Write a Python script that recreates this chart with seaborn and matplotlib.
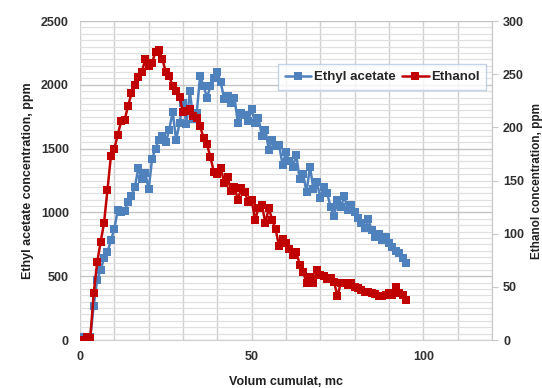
import numpy as np
import pandas as pd
import matplotlib
matplotlib.use("Agg")
import matplotlib.pyplot as plt
from matplotlib.ticker import MultipleLocator
import seaborn as sns

# cumulative volume (mc), one sample per unit
volume = list(range(0, 96))

# ethyl acetate, ppm (left axis)
ethyl_acetate = [
    20, 25, 20, 25, 270, 470, 550, 640, 690, 780,
    870, 1020, 1000, 1010, 1080, 1130, 1200, 1350, 1260, 1310,
    1180, 1420, 1500, 1570, 1600, 1550, 1650, 1790, 1570, 1700,
    1860, 1690, 1950, 1730, 1780, 2070, 1990, 1900, 1990, 2050,
    2100, 2020, 1890, 1910, 1860, 1900, 1700, 1780, 1760, 1720,
    1810, 1700, 1740, 1600, 1650, 1490, 1570, 1520, 1530, 1375,
    1470, 1400, 1360, 1450, 1260, 1300, 1160, 1360, 1180, 1240,
    1115, 1200, 1150, 1045, 970, 1100, 1045, 1125, 1020, 1060,
    1005, 960, 920, 880, 945, 860, 810, 830, 786, 810,
    760, 730, 700, 680, 640, 600,
]

# ethanol, ppm (right axis)
ethanol = [
    0, 0, 3, 2, 44, 73, 92, 110, 141, 173,
    180, 193, 206, 207, 220, 232, 240, 247, 252, 264,
    258, 261, 271, 273, 264, 252, 248, 239, 234, 229,
    214, 215, 217, 211, 209, 201, 190, 184, 172, 158,
    156, 162, 148, 153, 140, 144, 132, 143, 139, 130,
    132, 113, 124, 127, 110, 124, 113, 104, 88, 95,
    91, 86, 80, 83, 71, 64, 54, 59, 54, 66,
    61, 60, 57, 58, 55, 41, 54, 54, 52, 54,
    50, 49, 47, 45, 45, 44, 43, 41, 41, 42,
    44, 42, 50, 44, 42, 38,
]

BLUE = "#4f81bd"
RED = "#c00000"

sns.set_style("white")
plt.rcParams["font.family"] = ["Liberation Sans", "DejaVu Sans"]
plt.rcParams["font.weight"] = "bold"

df = pd.DataFrame({"volume": volume, "ethyl_acetate": ethyl_acetate, "ethanol": ethanol})

fig = plt.figure(figsize=(5.42, 3.88), dpi=100)
ax = fig.add_axes([0.1476, 0.1237, 0.760, 0.822])
ax2 = ax.twinx()

sns.lineplot(data=df, x="volume", y="ethyl_acetate", ax=ax, color=BLUE, marker="s",
             markersize=5.5, markeredgewidth=0, linewidth=1.8, label="Ethyl acetate", legend=False)
sns.lineplot(data=df, x="volume", y="ethanol", ax=ax2, color=RED, marker="s",
             markersize=5.5, markeredgewidth=0, linewidth=1.8, label="Ethanol", legend=False)

ax.set_xlim(0, 120)
ax.set_ylim(0, 2500)
ax2.set_ylim(0, 300)

ax.xaxis.set_major_locator(MultipleLocator(50))
ax.xaxis.set_minor_locator(MultipleLocator(10))
ax.yaxis.set_major_locator(MultipleLocator(500))
ax.yaxis.set_minor_locator(MultipleLocator(50))
ax2.yaxis.set_major_locator(MultipleLocator(50))

ax.grid(which="major", axis="y", color="#c4c4c4", linewidth=1.0)
ax.grid(which="minor", axis="y", color="#e0e0e0", linewidth=0.9)
ax.grid(which="both", axis="x", color="#d0d0d0", linewidth=1.0)
ax.set_axisbelow(True)

for a in (ax, ax2):
    for s in a.spines.values():
        s.set_visible(False)
ax2.spines["right"].set_visible(True)
ax2.spines["right"].set_color("#c8c8c8")
ax.spines["bottom"].set_visible(True)
ax.spines["bottom"].set_color("#d0d0d0")

ax.tick_params(axis="both", which="both", length=0, labelsize=9, colors="#303030", pad=8)
ax2.tick_params(axis="y", which="major", length=4, direction="out", color="#c8c8c8",
                labelsize=9, labelcolor="#303030", pad=4)

ax.set_xlabel("Volum cumulat, mc", fontsize=9, fontweight="bold", color="#202020", labelpad=9)
ax.set_ylabel("Ethyl acetate concentration, ppm", fontsize=9, fontweight="bold", color="#202020", labelpad=5)
ax2.set_ylabel("Ethanol concentration, ppm", fontsize=8.5, fontweight="bold", color="#202020", labelpad=5)

h1, l1 = ax.get_legend_handles_labels()
h2, l2 = ax2.get_legend_handles_labels()
leg = ax2.legend(h1 + h2, l1 + l2, ncol=2, loc="upper left", bbox_to_anchor=(0.465, 0.885),
                 fontsize=9.5, frameon=True, fancybox=False, handlelength=2.0,
                 handletextpad=0.2, columnspacing=0.5, borderpad=0.5)
leg.get_frame().set_edgecolor("#b4c8e4")
leg.get_frame().set_linewidth(1.0)

fig.savefig("out.png", dpi=100)
